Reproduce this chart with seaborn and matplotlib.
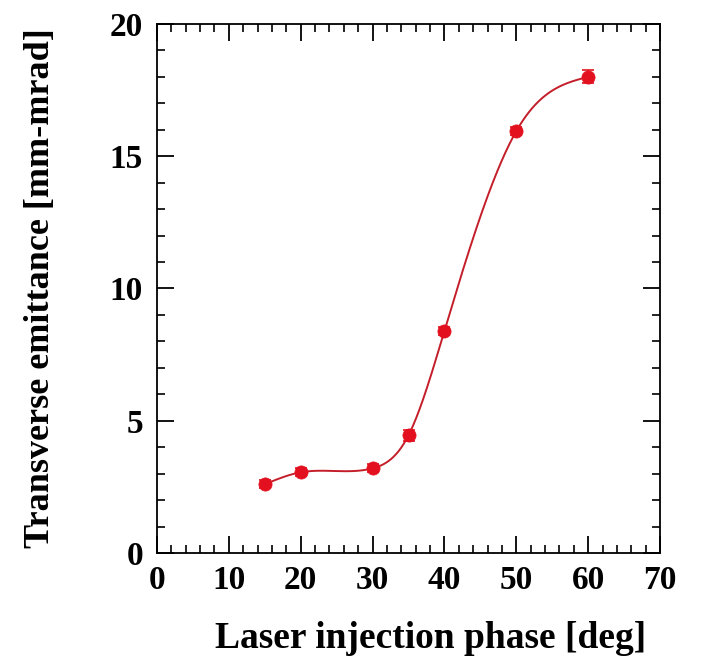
import numpy as np
import pandas as pd
import matplotlib
matplotlib.use("Agg")
import matplotlib.pyplot as plt
import seaborn as sns
from matplotlib.ticker import MultipleLocator

# Measured emittance vs. laser injection phase
phase_deg = [15, 20, 30, 35, 40, 50, 60]
emittance = [2.6, 3.05, 3.2, 4.45, 8.4, 15.95, 18.0]
emittance_err = [0.15, 0.15, 0.15, 0.2, 0.15, 0.15, 0.25]

x_ticks = [0, 10, 20, 30, 40, 50, 60, 70]
y_ticks = [0, 5, 10, 15, 20]


def natural_spline(x, y, xs):
    """Natural cubic spline through (x, y) evaluated at xs."""
    x = np.asarray(x, float)
    y = np.asarray(y, float)
    n = len(x)
    h = np.diff(x)
    A = np.zeros((n, n))
    b = np.zeros(n)
    A[0, 0] = A[-1, -1] = 1.0
    for i in range(1, n - 1):
        A[i, i - 1] = h[i - 1]
        A[i, i] = 2 * (h[i - 1] + h[i])
        A[i, i + 1] = h[i]
        b[i] = 6 * ((y[i + 1] - y[i]) / h[i] - (y[i] - y[i - 1]) / h[i - 1])
    M = np.linalg.solve(A, b)
    out = np.empty_like(xs)
    idx = np.clip(np.searchsorted(x, xs) - 1, 0, n - 2)
    for k, (xv, i) in enumerate(zip(xs, idx)):
        hi = h[i]
        t1 = x[i + 1] - xv
        t0 = xv - x[i]
        out[k] = (M[i] * t1 ** 3 / (6 * hi) + M[i + 1] * t0 ** 3 / (6 * hi)
                  + (y[i] / hi - M[i] * hi / 6) * t1
                  + (y[i + 1] / hi - M[i + 1] * hi / 6) * t0)
    return out


sns.set_theme(style="white")
plt.rcParams["font.family"] = ["Liberation Serif", "DejaVu Serif"]
plt.rcParams["font.weight"] = "bold"
plt.rcParams["text.color"] = "black"
plt.rcParams["axes.labelcolor"] = "black"

fig = plt.figure(figsize=(7.05, 6.64), dpi=100)
ax = fig.add_axes([0.2227, 0.1672, 0.7135, 0.7967])

xs = np.linspace(phase_deg[0], phase_deg[-1], 400)
curve = pd.DataFrame({"phase": xs, "emit": natural_spline(phase_deg, emittance, xs)})
pts = pd.DataFrame({"phase": phase_deg, "emit": emittance})

line_col = "#c41e2a"
dot_col = "#e3111f"

sns.lineplot(data=curve, x="phase", y="emit", ax=ax, color=line_col, lw=1.4)
ax.errorbar(phase_deg, emittance, yerr=emittance_err, fmt="none",
            ecolor=dot_col, elinewidth=1.2, capsize=4, capthick=1.2, zorder=3)
sns.scatterplot(data=pts, x="phase", y="emit", ax=ax, color=dot_col, s=90,
                edgecolor=dot_col, linewidth=0.5, zorder=4)

ax.set_xlim(0, 70)
ax.set_ylim(0, 20)
ax.set_xticks(x_ticks)
ax.set_yticks(y_ticks)
ax.xaxis.set_minor_locator(MultipleLocator(2))
ax.yaxis.set_minor_locator(MultipleLocator(1))
ax.tick_params(which="both", direction="in", top=True, right=True,
               bottom=True, left=True, colors="black", labelcolor="black",
               labelsize=24)
ax.tick_params(axis="x", which="major", pad=9)
ax.tick_params(axis="y", which="major", pad=10)
ax.tick_params(which="major", length=12, width=1.3)
ax.tick_params(which="minor", length=6, width=1.2)
for lab in ax.get_xticklabels() + ax.get_yticklabels():
    lab.set_fontweight("bold")

for s in ax.spines.values():
    s.set_color("black")
    s.set_linewidth(1.3)

ax.set_xlabel("Laser injection phase [deg]", fontsize=27, fontweight="bold",
              color="black", labelpad=18)
ax.xaxis.label.set_x(0.543)
ax.set_ylabel("Transverse emittance [mm-mrad]", fontsize=26, fontweight="bold",
              color="black", labelpad=38)

fig.savefig("out.png", dpi=100, facecolor="white")
